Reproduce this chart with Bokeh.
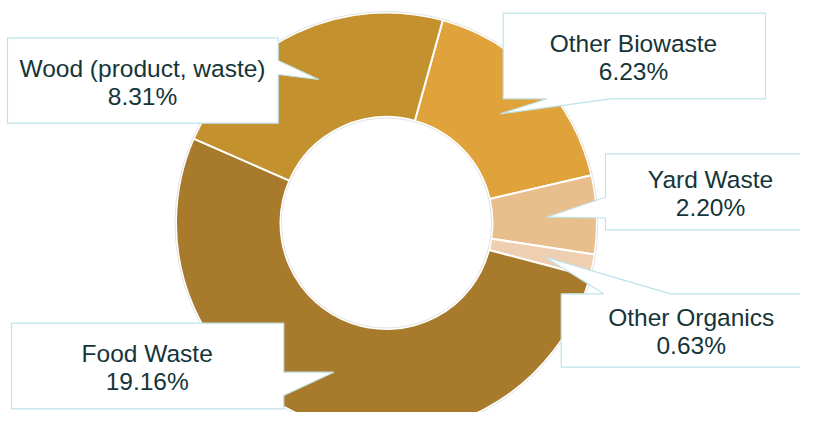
import math
from bokeh.plotting import figure
from bokeh.models import Range1d
from bokeh.core.properties import value
from bokeh.embed import file_html
from bokeh.resources import INLINE

# ---- data ----
categories = ["Other Biowaste", "Yard Waste", "Other Organics", "Food Waste", "Wood (product, waste)"]
shares = [6.23, 2.20, 0.63, 19.16, 8.31]
colors = ["#E0A33B", "#E8BE8C", "#EFCFB1", "#A87A2C", "#C4912F"]

# ---- layout (reference pixel coordinates, y down) ----
W, H = 800, 412
CX, CY = 386, 222.5
R_OUT, R_IN = 210.5, 106
START_DEG = 90 - 15.5  # first slice starts 15.5 deg clockwise from top

def Y(y):
    return 428 - y

p = figure(width=W, height=H, output_backend="svg", toolbar_location=None,
           x_range=Range1d(0, W), y_range=Range1d(428 - H, 428),
           min_border=0, outline_line_color=None)
p.axis.visible = False
p.grid.visible = False
p.background_fill_color = "white"
p.border_fill_color = "white"

total = sum(shares)
starts, ends = [], []
acc = 0.0
for v in shares:
    a0 = START_DEG - acc / total * 360
    a1 = a0 - v / total * 360
    starts.append(math.radians(a0))
    ends.append(math.radians(a1))
    acc += v

n = len(shares)
p.annular_wedge(x=[CX] * n, y=[Y(CY)] * n, inner_radius=R_IN, outer_radius=R_OUT,
                start_angle=starts, end_angle=ends, direction="clock",
                fill_color=colors, line_color="white", line_width=2)
p.circle(x=[CX], y=[Y(CY)], radius=R_OUT + 1, fill_color=None, line_color="#E2E2E2", line_width=1)
p.circle(x=[CX], y=[Y(CY)], radius=R_IN - 1, fill_color=None, line_color="#E2E2E2", line_width=1)

# callout shapes (box + pointer), reference pixel coords
callouts = {
    "Wood (product, waste)": dict(
        poly=[(7, 37.3), (277.7, 37.3), (277.7, 60), (318.3, 79), (277.7, 74), (277.7, 122.7), (7, 122.7)],
        tx=142, ty=(67.7, 96)),
    "Other Biowaste": dict(
        poly=[(502.7, 12.7), (765, 12.7), (765, 98.3), (610, 98.3), (500, 113.3), (546.7, 98.3), (502.7, 98.3)],
        tx=633, ty=(42.7, 70.5)),
    "Yard Waste": dict(
        poly=[(605, 153.3), (815, 153.3), (815, 229.3), (605, 229.3), (605, 217.5), (546, 216.7), (605, 196.7)],
        tx=710, ty=(179.3, 207)),
    "Other Organics": dict(
        poly=[(560.7, 293.3), (603.3, 293.3), (545, 256.7), (670, 293.3), (820, 293.3), (820, 366.7), (560.7, 366.7)],
        tx=690.7, ty=(317.3, 345)),
    "Food Waste": dict(
        poly=[(11, 322.7), (283.3, 322.7), (283.3, 371.7), (333.3, 371.7), (283.3, 395), (283.3, 408.3), (11, 408.3)],
        tx=146.7, ty=(352.7, 381)),
}

xs, ys, lx, ly, labels = [], [], [], [], []
for cat, v in zip(categories, shares):
    c = callouts[cat]
    xs.append([pt[0] for pt in c["poly"]])
    ys.append([Y(pt[1]) for pt in c["poly"]])
    lx += [c["tx"], c["tx"]]
    ly += [Y(c["ty"][0]), Y(c["ty"][1])]
    labels += [cat, f"{v:.2f}%"]

p.patches(xs=xs, ys=ys, fill_color="white", line_color="#BFE3EA", line_width=1.2)
p.text(x=lx, y=ly, text=labels, text_align="center", text_baseline="middle",
       text_font=value("Liberation Sans"), text_font_size="24.5px", text_color="#153539")

open("out.html", "w").write(file_html(p, INLINE))
